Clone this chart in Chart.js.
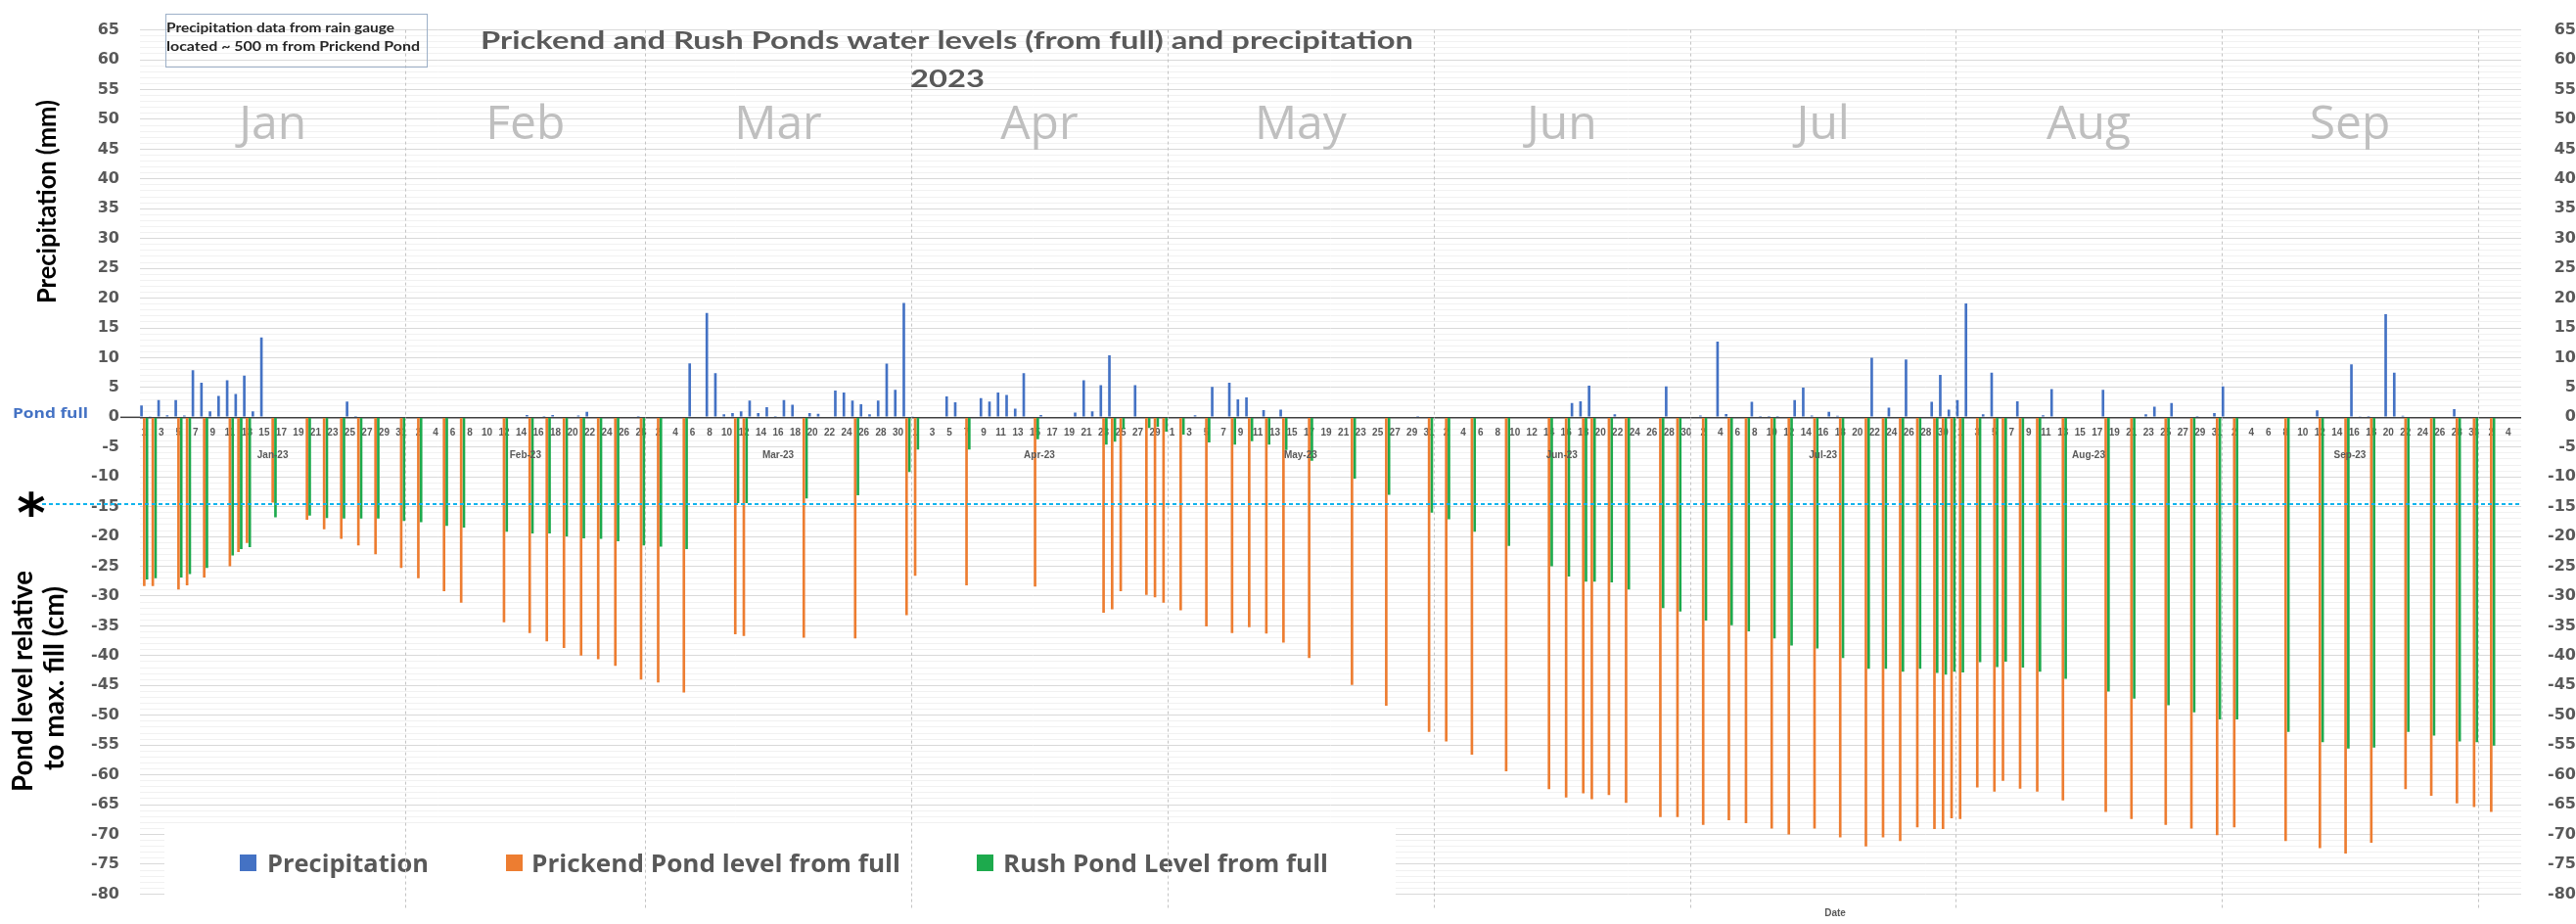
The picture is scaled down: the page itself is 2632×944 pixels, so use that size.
<!DOCTYPE html>
<html>
<head>
<meta charset="utf-8">
<script src="https://cdn.jsdelivr.net/npm/chart.js@4.4.1/dist/chart.umd.min.js"></script>
<style>
  html, body { margin: 0; padding: 0; background: #fff; }
  canvas { display: block; }
</style>
</head>
<body>
<canvas id="pondChart" width="2632" height="944" style="width:2632px;height:944px"></canvas>
<script>
// ------------------ DONNEES ------------------
const monthNames = ['Jan', 'Feb', 'Mar', 'Apr', 'May', 'Jun', 'Jul', 'Aug', 'Sep', 'Oct'];
const monthLengths = [31, 28, 31, 30, 31, 30, 31, 31, 30, 5];

// Precipitation (mm), one value per day
const precipJan = [2.0, 0.1, 2.9, 0.35, 2.9, 0.3, 7.9, 5.8, 1.0, 3.6, 6.2, 3.9, 7.0, 1.0, 13.4, 0, 0, 0, 0, 0, 0, 0, 0, 0, 2.65, 0.2, 0, 0, 0, 0, 0];
const precipFeb = [0, 0, 0, 0, 0, 0, 0, 0, 0.15, 0, 0, 0, 0, 0, 0.4, 0, 0.2, 0.4, 0, 0, 0.3, 0.9, 0, 0, 0.15, 0, 0, 0.2];
const precipMar = [0, 0, 0.15, 0, 0.15, 9.05, 0, 17.5, 7.4, 0.5, 0.7, 1.0, 2.8, 0.7, 1.7, 0.2, 2.9, 2.1, 0, 0.7, 0.6, 0, 4.5, 4.15, 2.8, 2.2, 0.5, 2.8, 9.0, 4.6, 19.2];
const precipApr = [0.1, 0, 0, 0, 3.5, 2.5, 0, 0, 3.2, 2.65, 4.15, 3.75, 1.45, 7.4, 0, 0.4, 0, 0, 0, 0.8, 6.2, 1.0, 5.4, 10.4, 0, 0, 5.4, 0, 0, 0];
const precipMay = [0, 0, 0, 0.35, 0, 5.1, 0, 5.8, 3.0, 3.35, 0, 1.2, 0, 1.3, 0, 0, 0, 0, 0, 0, 0, 0, 0, 0, 0, 0, 0, 0, 0, 0.2, 0];
const precipJun = [0, 0, 0, 0, 0, 0, 0, 0, 0, 0, 0, 0, 0, 0, 0, 0, 2.4, 2.7, 5.3, 0, 0, 0.5, 0, 0, 0, 0, 0, 5.2, 0, 0];
const precipJul = [0, 0.3, 0, 12.7, 0.55, 0, 0, 2.6, 0.2, 0.2, 0.2, 0, 2.9, 5.0, 0.3, 0, 0.9, 0.25, 0.15, 0, 0, 10.0, 0, 1.6, 0, 9.7, 0, 0, 2.6, 7.1, 1.3];
const precipAug = [2.9, 19.1, 0, 0.5, 7.5, 0, 0, 2.7, 0, 0, 0.35, 4.75, 0, 0, 0, 0, 0, 4.6, 0, 0, 0, 0, 0.5, 1.8, 0, 2.4, 0, 0, 0.2, 0, 0.7];
const precipSep = [5.2, 0, 0, 0, 0, 0, 0, 0, 0, 0, 0, 1.15, 0, 0, 0, 8.9, 0.1, 0.2, 0, 17.3, 7.5, 0.25, 0, 0, 0, 0, 0, 1.35, 0, 0];
const precipOct = [0, 0, 0, 0, 0];

// Pond levels relative to full (cm), on survey days
const pondDates = [
  '01-01', '01-02', '01-05', '01-06', '01-08', '01-11', '01-12', '01-13', '01-16', '01-20', '01-22', '01-24', '01-26', '01-28', '01-31',
  '02-02', '02-05', '02-07', '02-12', '02-15', '02-17', '02-19', '02-21', '02-23', '02-25', '02-28',
  '03-02', '03-05', '03-11', '03-12', '03-19', '03-25', '03-31',
  '04-01', '04-07', '04-15', '04-23', '04-24', '04-25', '04-28', '04-29', '04-30',
  '05-02', '05-05', '05-08', '05-10', '05-12', '05-14', '05-17', '05-22', '05-26', '05-31',
  '06-02', '06-05', '06-09', '06-14', '06-16', '06-18', '06-19', '06-21', '06-23', '06-27', '06-29',
  '07-02', '07-05', '07-07', '07-10', '07-12', '07-15', '07-18', '07-21', '07-23', '07-25', '07-27', '07-29', '07-30', '07-31',
  '08-01', '08-03', '08-05', '08-06', '08-08', '08-10', '08-13', '08-18', '08-21', '08-25', '08-28', '08-31',
  '09-02', '09-08', '09-12', '09-15', '09-18', '09-22', '09-25', '09-28', '09-30',
  '10-02'
];
const prickendLevel = [
  -28.3, -28.3, -28.9, -28.2, -26.9, -25.0, -22.6, -21.1, -14.3, -17.2, -18.8, -20.4, -21.5, -23.0, -25.3,
  -27.0, -29.2, -31.1, -34.4, -36.2, -37.6, -38.7, -40.0, -40.6, -41.7, -44.0,
  -44.5, -46.2, -36.4, -36.7, -37.0, -37.1, -33.2,
  -26.6, -28.2, -28.4, -32.8, -32.2, -29.2, -29.8, -30.2, -31.1,
  -32.4, -35.1, -36.2, -35.2, -36.3, -37.8, -40.4, -44.9, -48.4, -52.8,
  -54.4, -56.6, -59.4, -62.4, -63.8, -63.1, -64.1, -63.4, -64.7, -67.1, -67.1,
  -68.4, -67.6, -68.1, -69.0, -70.0, -69.0, -70.5, -72.0, -70.5, -71.1, -68.8, -69.1, -69.1, -67.3,
  -67.4, -62.1, -62.8, -61.0, -62.3, -62.8, -64.3, -66.2, -67.4, -68.4, -69.0, -70.1,
  -68.8, -71.1, -72.3, -73.2, -71.4, -62.4, -63.5, -64.8, -65.4,
  -66.2
];
const rushLevel = [
  -27.2, -27.0, -26.9, -26.3, -25.3, -23.2, -22.1, -21.8, -16.8, -16.5, -16.9, -17.0, -17.0, -17.0, -17.4,
  -17.6, -18.2, -18.5, -19.2, -19.5, -19.5, -20.0, -20.3, -20.4, -20.8, -21.5,
  -21.7, -22.1, -14.4, -14.4, -13.6, -13.1, -9.2,
  -5.4, -5.4, -3.7, -4.6, -4.1, -2.0, -1.8, -1.6, -2.4,
  -2.9, -4.2, -4.6, -4.0, -4.6, -5.5, -7.3, -10.3, -13.0, -16.0,
  -17.1, -19.2, -21.6, -25.0, -26.7, -27.6, -27.6, -27.7, -28.9, -32.0, -32.6,
  -34.1, -34.9, -35.9, -37.1, -38.3, -38.8, -40.4, -42.2, -42.2, -42.7, -42.2, -42.9, -43.2, -42.7,
  -42.8, -41.1, -41.9, -41.0, -42.0, -42.7, -43.9, -46.0, -47.2, -48.3, -49.5, -50.7,
  -50.7, -52.8, -54.5, -55.6, -55.4, -52.8, -53.4, -54.4, -54.5,
  -55.1
];

const pondFullLine = -14.5;   // niveau marqué par *

// ------------------ PREPARATION ------------------
const categories = [];
const dayLabels = [];
const monthStart = [];
monthNames.forEach((m, mi) => {
  monthStart.push(categories.length);
  for (let d = 1; d <= monthLengths[mi]; d++) {
    categories.push(String(mi + 1).padStart(2, '0') + '-' + String(d).padStart(2, '0'));
    dayLabels.push(String(d));
  }
});

const precipitation = [].concat(precipJan, precipFeb, precipMar, precipApr, precipMay,
  precipJun, precipJul, precipAug, precipSep, precipOct);

const prickendData = categories.map(() => null);
const rushData = categories.map(() => null);
pondDates.forEach((d, i) => {
  const k = categories.indexOf(d);
  prickendData[k] = prickendLevel[i];
  rushData[k] = rushLevel[i];
});

const GREY = '#595959';
const COLORS = { precip: '#4472C4', prickend: '#ED7D31', rush: '#1DAA4D' };

// ------------------ TEXTE ------------------
function fitText(ctx, text, x, y, font, width, color, align) {
  ctx.save();
  ctx.font = font;
  ctx.fillStyle = color;
  const w = ctx.measureText(text).width;
  ctx.translate(x, y);
  ctx.scale(width ? width / w : 1, 1);
  ctx.textAlign = align || 'left';
  ctx.textBaseline = 'alphabetic';
  ctx.fillText(text, 0, 0);
  ctx.restore();
  return width ? width / w : 1;
}

function rotText(ctx, text, bx, cy, font, len, color) {
  ctx.save();
  ctx.font = font;
  ctx.fillStyle = color;
  const w = ctx.measureText(text).width;
  ctx.translate(bx, cy);
  ctx.rotate(-Math.PI / 2);
  ctx.scale(len / w, 1);
  ctx.textAlign = 'center';
  ctx.textBaseline = 'alphabetic';
  ctx.fillText(text, 0, 0);
  ctx.restore();
}

// ------------------ DECOR (plugin) ------------------
const decorPlugin = {
  id: 'decor',
  beforeDatasetsDraw(chart) {
    const { ctx, chartArea, scales } = chart;
    const xs = scales.x;

    // Légende dans la zone du graphique
    ctx.save();
    ctx.fillStyle = '#fff';
    ctx.fillRect(168, 843, 1258, 75);
    const items = [
      { sq: 245, tx: 273, w: 165, ds: 0 },
      { sq: 517, tx: 543, w: 377, ds: 1 },
      { sq: 998, tx: 1025, w: 332, ds: 2 }
    ];
    items.forEach(it => {
      const ds = chart.data.datasets[it.ds];
      ctx.fillStyle = ds.backgroundColor;
      ctx.fillRect(it.sq, 873, 17, 17);
      fitText(ctx, ds.label, it.tx, 890.5, 'bold 25px "Open Sans"', it.w, GREY);
    });
    ctx.restore();

    // Lignes des mois (pointillés)
    ctx.save();
    ctx.strokeStyle = '#C4C4C4';
    ctx.lineWidth = 1;
    ctx.setLineDash([3, 3]);
    monthStart.slice(1).forEach(s => {
      const x = Math.round((xs.getPixelForValue(s - 1) + xs.getPixelForValue(s)) / 2) + 0.5;
      ctx.beginPath();
      ctx.moveTo(x, chartArea.top);
      ctx.lineTo(x, chartArea.bottom + 14);
      ctx.stroke();
    });
    ctx.restore();

    // Axe horizontal prolongé jusqu'au "0"
    const y0 = scales.y.getPixelForValue(0);
    ctx.save();
    ctx.strokeStyle = '#404040';
    ctx.lineWidth = 1.5;
    ctx.beginPath();
    ctx.moveTo(123, y0);
    ctx.lineTo(chartArea.left, y0);
    ctx.stroke();
    ctx.restore();
  },
  afterDatasetsDraw(chart) {
    const { ctx, chartArea, scales } = chart;
    const y = Math.round(scales.y.getPixelForValue(pondFullLine));
    ctx.save();
    ctx.strokeStyle = '#10B4EE';
    ctx.lineWidth = 2;
    ctx.setLineDash([4, 3]);
    ctx.beginPath();
    ctx.moveTo(43, y);
    ctx.lineTo(chartArea.right, y);
    ctx.stroke();
    ctx.restore();
  },
  afterDraw(chart) {
    const { ctx, scales } = chart;
    const xs = scales.x;
    const ys = scales.y;

    // Titre
    const sx = fitText(ctx, 'Prickend and Rush Ponds water levels (from full) and precipitation',
      491, 50, 'bold 25px Lato', 953, GREY);
    ctx.save();
    ctx.font = 'bold 25px Lato';
    ctx.fillStyle = GREY;
    ctx.translate(968, 89);
    ctx.scale(sx, 1);
    ctx.textAlign = 'center';
    ctx.fillText('2023', 0, 0);
    ctx.restore();

    // Encadré note
    ctx.save();
    ctx.strokeStyle = '#9DB0C8';
    ctx.lineWidth = 1;
    ctx.strokeRect(169.5, 14.5, 267, 54);
    ctx.restore();
    fitText(ctx, 'Precipitation data from rain gauge', 170, 33, 'bold 13px Lato', 233, '#262626');
    fitText(ctx, 'located ~ 500 m from Prickend Pond', 170, 52, 'bold 13px Lato', 259, '#262626');

    // Noms des mois + étiquettes "Jan-23"
    for (let mi = 0; mi < 9; mi++) {
      const a = monthStart[mi];
      const b = a + monthLengths[mi] - 1;
      const cx = (xs.getPixelForValue(a) + xs.getPixelForValue(b)) / 2;
      ctx.save();
      ctx.font = '48px "Open Sans"';
      ctx.fillStyle = '#BFBFBF';
      ctx.textAlign = 'center';
      ctx.fillText(monthNames[mi], cx, 142);
      ctx.font = 'bold 10px "Liberation Sans"';
      ctx.fillStyle = GREY;
      ctx.fillText(monthNames[mi] + '-23', cx, 467.5);
      ctx.restore();
    }

    // Titres des axes
    rotText(ctx, 'Precipitation (mm)', 57, 206, 'bold 27px Lato', 208, '#000');
    rotText(ctx, 'Pond level relative', 33, 696, 'bold 28px Lato', 226, '#000');
    rotText(ctx, 'to max. fill (cm)', 65, 693, 'bold 28px Lato', 188, '#000');

    // "Pond full" et astérisque
    fitText(ctx, 'Pond full', 13, 426.5, 'bold 15px "Open Sans"', 77, '#4472C4');
    ctx.save();
    ctx.font = 'bold 56px "DejaVu Sans"';
    ctx.fillStyle = '#000';
    ctx.textAlign = 'center';
    const m = ctx.measureText('*');
    const yStar = ys.getPixelForValue(pondFullLine);
    ctx.fillText('*', 32, yStar + (m.actualBoundingBoxAscent - m.actualBoundingBoxDescent) / 2);
    ctx.restore();

    // Titre de l'axe horizontal
    ctx.save();
    ctx.font = 'bold 10px "Liberation Sans"';
    ctx.fillStyle = GREY;
    ctx.textAlign = 'center';
    ctx.fillText('Date', 1875, 936);
    ctx.restore();
  }
};

// ------------------ GRAPHIQUE ------------------
const tickFont = { family: '"DejaVu Sans"', size: 16, weight: 'bold' };

const chart = new Chart(document.getElementById('pondChart').getContext('2d'), {
  type: 'bar',
  data: {
    labels: categories,
    datasets: [
      { label: 'Precipitation', data: precipitation, backgroundColor: COLORS.precip },
      { label: 'Prickend Pond level from full', data: prickendData, backgroundColor: COLORS.prickend },
      { label: 'Rush Pond Level from full', data: rushData, backgroundColor: COLORS.rush }
    ]
  },
  options: {
    responsive: false,
    animation: false,
    devicePixelRatio: 1,
    layout: { padding: { top: 15, bottom: 20, left: 0, right: 0 } },
    datasets: { bar: { categoryPercentage: 0.96, barPercentage: 0.95 } },
    plugins: { legend: { display: false }, tooltip: { enabled: false } },
    scales: {
      x: {
        position: { y: 0 },
        z: 1,
        grid: { display: false, drawTicks: false },
        border: { display: false },
        ticks: {
          autoSkip: false,
          maxRotation: 0,
          minRotation: 0,
          padding: 10,
          color: GREY,
          font: { family: '"Liberation Sans"', size: 10, weight: 'bold' },
          callback: (v, i) => (i % 2 === 0 ? dayLabels[i] : '')
        }
      },
      y: {
        position: 'left',
        min: -80,
        max: 65,
        afterFit: s => { s.width = 143; },
        border: { display: false },
        grid: {
          drawTicks: false,
          color: c => (c.tick.value === 0 ? '#404040' : (c.tick.value % 5 === 0 ? '#D9D9D9' : '#F1F1F1')),
          lineWidth: c => (c.tick.value === 0 ? 1.5 : 1)
        },
        ticks: {
          stepSize: 1,
          autoSkip: false,
          padding: 21,
          color: GREY,
          font: tickFont,
          callback: v => (v % 5 === 0 ? v : '')
        }
      },
      y2: {
        position: 'right',
        min: -80,
        max: 65,
        afterFit: s => { s.width = 56; },
        border: { display: false },
        grid: { display: false, drawTicks: false },
        ticks: {
          stepSize: 5,
          autoSkip: false,
          padding: 15,
          crossAlign: 'far',
          color: GREY,
          font: tickFont
        }
      }
    }
  },
  plugins: [decorPlugin]
});
</script>
</body>
</html>
